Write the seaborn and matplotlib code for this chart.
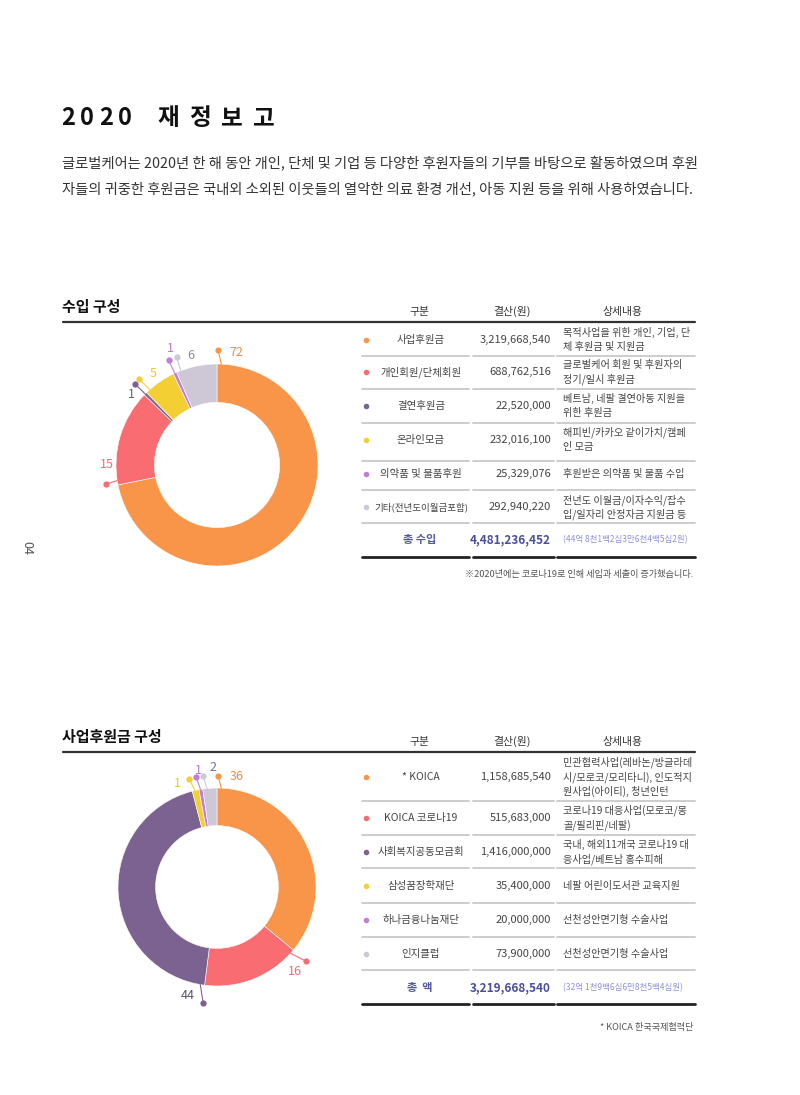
import numpy as np
import matplotlib
matplotlib.use("Agg")
import matplotlib.pyplot as plt
import seaborn as sns

# ==========================================
# 데이터 (수입 구성 / 사업후원금 구성)
# ==========================================
income_names = ['사업후원금', '개인회원/단체회원', '결연후원금', '온라인모금',
                '의약품 및 물품후원', '기타(전년도이월금포함)']
income_amounts = [3219668540, 688762516, 22520000, 232016100, 25329076, 292940220]
income_pct = ['72', '15', '1', '5', '1', '6']
income_desc = [['목적사업을 위한 개인, 기업, 단', '체 후원금 및 지원금'],
               ['글로벌케어 회원 및 후원자의', '정기/일시 후원금'],
               ['베트남, 네팔 결연아동 지원을', '위한 후원금'],
               ['해피빈/카카오 같이가치/캠페', '인 모금'],
               ['후원받은 의약품 및 물품 수입'],
               ['전년도 이월금/이자수익/잡수', '입/일자리 안정자금 지원금 등']]
income_total = 4481236452
income_total_kr = '(44억 8천1백2십3만6천4백5십2원)'

biz_names = ['* KOICA', 'KOICA 코로나19', '사회복지공동모금회', '삼성꿈장학재단',
             '하나금융나눔재단', '인지클럽']
biz_amounts = [1158685540, 515683000, 1416000000, 35400000, 20000000, 73900000]
biz_pct = ['36', '16', '44', '1', '1', '2']
biz_desc = [['민관협력사업(레바논/방글라데', '시/모로코/모리타니), 인도적지', '원사업(아이티), 청년인턴'],
            ['코로나19 대응사업(모로코/몽', '골/필리핀/네팔)'],
            ['국내, 해외11개국 코로나19 대', '응사업/베트남 홍수피해'],
            ['네팔 어린이도서관 교육지원'],
            ['선천성안면기형 수술사업'],
            ['선천성안면기형 수술사업']]
biz_total = 3219668540
biz_total_kr = '(32억 1천9백6십6만8천5백4십원)'

# 색상
palette = sns.color_palette(['#F99549', '#F96C71', '#7C6290', '#F3CF33', '#C07FD4', '#CEC7D5'])
text_cols = ['#F08A48', '#EE6E78', '#6E5A86', '#EDC63A', '#B57AC8', '#8F8A95']
text_cols2 = ['#F08A48', '#EE6E78', '#5A5560', '#EDC63A', '#B57AC8', '#6F7484']

sns.set_theme(style='white')
plt.rcParams['font.family'] = ['Noto Sans CJK KR', 'DejaVu Sans']

W, H = 800, 1095
fig = plt.figure(figsize=(W / 100, H / 100), dpi=100)
page = fig.add_axes([0, 0, 1, 1])
page.set_xlim(0, W)
page.set_ylim(H, 0)
page.axis('off')

# ---------- 제목 / 본문 ----------
title_chars = ['2', '0', '2', '0', '재', '정', '보', '고']
title_x = [68, 87, 106, 125, 168, 200, 231, 263]
for ch, x in zip(title_chars, title_x):
    page.text(x, 118, ch, fontsize=17, fontweight='bold', color='#111111',
              ha='center', va='center')

page.text(62, 163, '글로벌케어는 2020년 한 해 동안 개인, 단체 및 기업 등 다양한 후원자들의 기부를 바탕으로 활동하였으며 후원',
          fontsize=10.3, color='#333333', va='center')
page.text(62, 189, '자들의 귀중한 후원금은 국내외 소외된 이웃들의 열악한 의료 환경 개선, 아동 지원 등을 위해 사용하였습니다.',
          fontsize=10.3, color='#333333', va='center')
page.text(27, 548, '04', fontsize=9, color='#555555', rotation=-90, ha='center', va='center')


def add_donut(cx, cy, r_px, values, labels, dots, texts, tcols):
    lim = 1.45
    half = lim * r_px
    ax = fig.add_axes([(cx - half) / W, (H - cy - half) / H, 2 * half / W, 2 * half / H])
    wedges, _ = ax.pie(values, colors=palette, startangle=90, counterclock=False,
                       wedgeprops=dict(width=0.38, edgecolor='white', linewidth=0.4))
    ax.set_xlim(-lim, lim)
    ax.set_ylim(-lim, lim)
    ax.set_aspect('equal')
    ax.axis('off')
    for w, lab, (dx, dy), (tx, ty), c, tc in zip(wedges, labels, dots, texts, palette, tcols):
        span = w.theta2 - w.theta1
        a = np.deg2rad(w.theta2 - min(2.5, 0.4 * span))
        ax.plot([np.cos(a), dx], [np.sin(a), dy], color=c, lw=0.8)
        ax.plot(dx, dy, 'o', color=c, ms=4.5, mec='none')
        ax.text(tx, ty, lab, color=tc, fontsize=9, ha='center', va='center')


def add_table(title, title_y, line_y, rows_y, seps_y, total_y, bottom_y, names, amounts,
              descs, total_name, total, total_kr, note, note_y):
    page.text(62, title_y, title, fontsize=10.8, fontweight='bold', color='#111111', va='center')
    page.plot([63, 695], [line_y, line_y], color='#333333', lw=1.6)
    for lab, x in zip(['구분', '결산(원)', '상세내용'], [419, 512, 623]):
        page.text(x, line_y - 10.5, lab, fontsize=7.8, color='#333333', ha='center', va='center')
    segs = [(362, 469), (473, 554), (557, 695)]
    for i, (y, name, amt, desc) in enumerate(zip(rows_y, names, amounts, descs)):
        page.plot(366, y, 'o', color=palette[i], ms=4, mec='none')
        fs = 6.9 if '(' in name else 7.5
        page.text(421, y, name, fontsize=fs, color='#444444', ha='center', va='center')
        page.text(551, y, f'{amt:,}', fontsize=8, color='#444444', ha='right', va='center')
        n = len(desc)
        for k, line in enumerate(desc):
            page.text(563, y + (k - (n - 1) / 2) * 14.5, line, fontsize=7.3,
                      color='#444444', va='center')
    for y in seps_y:
        for x0, x1 in segs:
            page.plot([x0, x1], [y, y], color='#C9C9C9', lw=1.3)
    page.text(420, total_y, total_name, fontsize=8, fontweight='bold', color='#5558A8',
              ha='center', va='center')
    page.text(551, total_y, f'{total:,}', fontsize=8.5, fontweight='bold', color='#4A4E9C',
              ha='right', va='center')
    page.text(563, total_y, total_kr, fontsize=6.1, color='#8E92D6', va='center')
    for x0, x1 in segs:
        page.plot([x0, x1], [bottom_y, bottom_y], color='#222222', lw=2)
    page.text(693, note_y, note, fontsize=6.6, color='#555555', ha='right', va='center')


# ---------- 수입 구성 ----------
add_donut(217, 465, 101, income_amounts, income_pct,
          dots=[(0.01, 1.14), (-1.10, -0.19), (-0.81, 0.80), (-0.77, 0.85), (-0.48, 1.04), (-0.40, 1.07)],
          texts=[(0.19, 1.11), (-1.09, 0.0), (-0.85, 0.70), (-0.63, 0.91), (-0.46, 1.15), (-0.26, 1.08)],
          tcols=text_cols)
add_table('수입 구성', 307, 322, [340, 372, 406, 440, 474, 507], [356, 389, 423, 461, 490, 523],
          540, 557, income_names, income_amounts, income_desc, '총 수입', income_total,
          income_total_kr, '※2020년에는 코로나19로 인해 세입과 세출이 증가했습니다.', 574)

# ---------- 사업후원금 구성 ----------
add_donut(217, 887, 99, biz_amounts, biz_pct,
          dots=[(0.01, 1.12), (0.90, -0.75), (-0.14, -1.17), (-0.28, 1.09), (-0.21, 1.11), (-0.14, 1.12)],
          texts=[(0.20, 1.12), (0.79, -0.85), (-0.30, -1.10), (-0.40, 1.05), (-0.19, 1.18), (-0.04, 1.21)],
          tcols=text_cols2)
add_table('사업후원금 구성', 737, 752, [777, 818, 852, 886, 920, 954], [801, 835, 868, 903, 937, 970],
          988, 1004, biz_names, biz_amounts, biz_desc, '총  액', biz_total,
          biz_total_kr, '* KOICA 한국국제협력단', 1027)

fig.savefig('out.png', dpi=100, facecolor='white')
